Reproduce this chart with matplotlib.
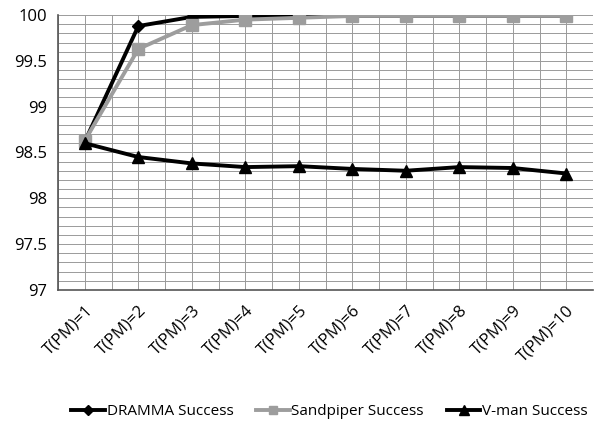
import matplotlib
matplotlib.use("Agg")
import matplotlib.pyplot as plt
from matplotlib.ticker import MultipleLocator
import numpy as np

categories = [f"T(PM)={i}" for i in range(1, 11)]
dramma = [98.62, 99.88, 99.98, 99.99, 99.99, 99.99, 99.99, 99.99, 99.99, 99.99]
sandpiper = [98.63, 99.63, 99.89, 99.95, 99.97, 99.99, 99.99, 99.99, 99.99, 99.99]
vman = [98.60, 98.45, 98.38, 98.34, 98.35, 98.32, 98.30, 98.34, 98.33, 98.27]

plt.rcParams['font.family'] = ['Open Sans', 'DejaVu Sans']

fig = plt.figure(figsize=(5.99, 4.30), dpi=100)
ax = fig.add_axes([0.097, 0.326, 0.893, 0.639])

x = np.arange(len(categories))
ax.plot(x, dramma, color='black', lw=2.8, marker='D', ms=6.5, label='DRAMMA Success', zorder=3)
ax.plot(x, sandpiper, color='#9d9d9d', lw=2.8, marker='s', ms=8, label='Sandpiper Success', zorder=4)
ax.plot(x, vman, color='black', lw=2.8, marker='^', ms=9, label='V-man Success', zorder=5)

ax.set_xlim(-0.5, len(categories) - 0.5)
ax.set_ylim(97, 100)
ax.yaxis.set_minor_locator(MultipleLocator(0.1))
ax.set_yticks([97, 97.5, 98, 98.5, 99, 99.5, 100])
ax.set_yticklabels(['97', '97.5', '98', '98.5', '99', '99.5', '100'])
ax.set_xticks(x)
ax.set_xticks(np.arange(-0.5, len(categories), 1.0), minor=True)
ax.set_xticklabels(categories, rotation=45, ha='right', rotation_mode='anchor', fontsize=12)
ax.tick_params(axis='y', labelsize=12, length=0, which='both', pad=8)
ax.tick_params(axis='x', length=0, which='both', pad=9)

ax.grid(True, which='both', color='#9a9a9a', lw=0.7)
ax.set_axisbelow(True)
for s in ['top', 'right']:
    ax.spines[s].set_visible(False)
ax.spines['left'].set_color('#555555')
ax.spines['bottom'].set_color('#555555')
ax.spines['left'].set_linewidth(1.2)
ax.spines['bottom'].set_linewidth(1.2)

fig.legend(loc='center', bbox_to_anchor=(0.55, 0.042), ncol=3, frameon=False,
           fontsize=11, handlelength=2.2, handletextpad=0.1, columnspacing=1.5,
           markerscale=0.8)

fig.savefig('out.png', dpi=100)
